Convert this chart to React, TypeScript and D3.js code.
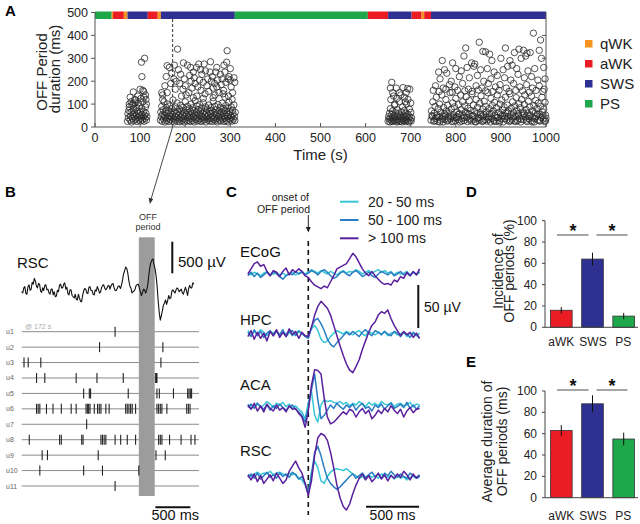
import React from 'react';
import * as d3 from 'd3';

const FONT = "'Liberation Sans', Arial, Helvetica, sans-serif";

// ---------- Panel A data ----------
const stateNames = ['qWK', 'aWK', 'SWS', 'PS'];
const stateColor: Record<string, string> = { qWK: '#f7941d', aWK: '#ec1c24', SWS: '#2e3192', PS: '#1ea84b' };
const stateSegments: [number, number, string][] = [
  [0, 37, 'PS'], [37, 40, 'qWK'], [40, 64, 'aWK'], [64, 72, 'qWK'], [72, 117, 'SWS'],
  [117, 139, 'aWK'], [139, 146, 'qWK'], [146, 310, 'SWS'], [310, 605, 'PS'], [605, 650, 'aWK'],
  [650, 702, 'SWS'], [702, 724, 'aWK'], [724, 730, 'qWK'], [730, 745, 'aWK'], [745, 1000, 'SWS'],
];
const timeTicks = [0, 100, 200, 300, 400, 500, 600, 700, 800, 900, 1000];
const durTicks = [0, 100, 200, 300, 400, 500];
const markedTime = 172;

const cluster1: [number, number][] = [
  [72,25],[74,40],[73,58],[75,72],[76,88],[78,30],[79,48],[80,65],[81,22],[82,95],[83,38],[84,55],[85,78],[86,28],[87,45],[88,62],[89,105],[90,33],[91,50],[92,85],[93,24],[94,70],[95,42],[96,58],[97,30],[98,92],[99,48],[100,65],[101,26],[102,38],[103,80],[104,54],[105,30],[106,110],[107,44],[108,68],[109,25],[110,52],[111,38],[112,88],[113,60],[114,30],[115,45],
  [78,130],[85,153],[88,120],[95,135],[100,165],[103,283],[104,220],[108,155],[110,300],[112,140],[113,120],[106,160],[96,105],[90,118],[80,110],[76,100],[84,100],[102,125],[109,130],[114,100],
];
const cluster2Low: [number, number][] = [
  [145,30],[146,65],[147,45],[148,90],[149,25],[150,55],[151,75],[152,35],[153,110],[154,50],[155,22],[156,68],[157,40],[158,85],[159,28],[160,58],[161,100],[162,38],[163,72],[164,24],[165,48],[166,92],[167,32],[168,62],[169,44],[170,80],[171,26],[172,54],[173,118],[174,36],[175,70],[176,22],[177,46],[178,88],[179,30],[180,60],[181,42],[182,105],[183,25],[184,66],[185,50],[186,34],[187,78],[188,23],[189,56],[190,95],[191,40],[192,70],[193,28],[194,52],[195,85],[196,36],[197,64],[198,22],[199,45],[200,110],[201,32],[202,74],[203,54],[204,26],[205,90],[206,42],[207,62],[208,30],[209,80],[210,48],[211,24],[212,68],[213,100],[214,38],[215,58],[216,28],[217,84],[218,44],[219,72],[220,22],[221,52],[222,115],[223,34],[224,64],[225,40],[226,92],[227,26],[228,56],[229,76],[230,30],[231,48],[232,98],[233,36],[234,66],[235,24],[236,82],[237,46],[238,60],[239,28],[240,106],[241,40],[242,70],[243,32],[244,54],[245,88],[246,22],[247,62],[248,44],[249,78],[250,30],[251,50],[252,96],[253,36],[254,68],[255,26],[256,58],[257,84],[258,40],[259,72],[260,24],[261,48],[262,112],[263,32],[264,64],[265,42],[266,90],[267,28],[268,56],[269,76],[270,36],[271,22],[272,60],[273,98],[274,44],[275,70],[276,30],[277,52],[278,86],[279,26],[280,66],[281,40],[282,104],[283,34],[284,58],[285,80],[286,24],[287,48],[288,72],[289,38],[290,94],[291,28],[292,62],[293,46],[294,82],[295,22],[296,54],[297,108],[298,36],[299,68],[300,30],[301,50],[302,88],[303,42],[304,26],[305,74],[306,58],[307,34],[308,96],[309,46],[310,28],[311,64],
];
const cluster2High: [number, number][] = [
  [148,150],[150,120],[155,180],[158,220],[160,268],[165,260],[170,235],[175,210],[180,200],[183,340],[185,250],[188,190],[190,230],[195,165],[198,210],[200,180],[205,270],[208,150],[210,225],[213,200],[215,170],[218,240],[220,215],[222,190],[225,260],[228,175],[230,275],[232,205],[235,160],[237,230],[240,195],[242,275],[245,245],[248,180],[250,210],[252,155],[255,240],[258,200],[260,220],[262,170],[265,190],[268,240],[270,175],[272,205],[275,150],[278,230],[280,185],[282,210],[285,160],[288,240],[290,195],[292,283],[293,333],[295,210],[297,220],[300,205],[302,175],[305,150],[308,215],[310,195],[300,255],[286,270],[270,260],[256,285],[234,250],[212,260],[196,280],[176,270],[168,190],[160,150],[150,140],[178,165],[202,140],[226,135],[244,145],[266,140],[288,130],[304,120],[192,135],[218,128],[240,125],[262,128],[284,145],[296,135],
];
const cluster3: [number, number][] = [
  [650,25],[651,45],[652,35],[653,60],[654,22],[655,80],[656,40],[657,30],[658,55],[659,24],[660,70],[661,38],[662,28],[663,50],[664,95],[665,26],[666,42],[667,62],[668,32],[669,22],[670,75],[671,46],[672,30],[673,58],[674,24],[675,110],[676,36],[677,48],[678,26],[679,66],[680,40],[681,22],[682,88],[683,34],[684,52],[685,28],[686,72],[687,42],[688,24],[689,60],[690,32],[691,100],[692,46],[693,26],[694,56],[695,38],[696,22],[697,78],[698,44],[699,30],[700,64],[701,26],[702,40],
  [656,120],[662,135],[670,125],[678,140],[686,130],[694,120],[700,105],[658,195],[655,170],[668,170],[683,172],[693,168],[675,150],[660,150],[690,150],[698,165],[665,100],[688,110],
];
const cluster4Low: [number, number][] = [
  [745,30],[746,70],[748,45],[749,110],[751,25],[752,60],[754,90],[755,38],[757,130],[758,52],[760,24],[761,80],[763,42],[764,100],[766,30],[767,65],[769,140],[770,48],[772,22],[773,85],[775,58],[776,34],[778,120],[779,70],[781,26],[782,95],[784,44],[785,62],[787,150],[788,36],[790,78],[791,24],[793,105],[794,54],[796,40],[797,88],[799,28],[800,125],[802,66],[803,46],[805,32],[806,98],[808,58],[809,22],[811,140],[812,76],[814,38],[815,110],[817,50],[818,28],[820,92],[821,64],[823,132],[824,42],[826,24],[827,82],[829,56],[830,115],[832,36],[833,72],[835,26],[836,145],[838,50],[839,96],[841,34],[842,68],[844,22],[845,120],[847,58],[848,86],[850,40],[851,28],[853,104],[854,62],[856,136],[857,46],[859,24],[860,78],[862,54],[863,112],[865,32],[866,90],[868,66],[869,26],[871,150],[872,44],[874,80],[875,58],[877,22],[878,125],[880,38],[881,94],[883,70],[884,30],[886,108],[887,52],[889,24],[890,84],[892,140],[893,42],[895,64],[896,28],[898,100],[899,56],[901,36],[902,118],[904,74],[905,22],[907,88],[908,48],[910,130],[911,60],[913,30],[914,96],[916,44],[917,70],[919,24],[920,145],[922,54],[923,82],[925,34],[926,110],[928,62],[929,26],[931,92],[932,46],[934,128],[935,72],[937,28],[938,58],[940,102],[941,38],[943,84],[944,22],[946,120],[947,50],[949,66],[950,32],[952,98],[953,140],[955,44],[956,76],[958,24],[959,60],[961,112],[962,36],[964,88],[965,52],[967,28],[968,135],[970,70],[971,40],[973,94],[974,22],[976,62],[977,116],[979,48],[980,80],[982,30],[983,104],[985,56],[986,26],[988,90],[989,42],[991,130],[992,66],[994,34],[995,78],[997,24],[998,108],[999,52],[1000,38],
  [747,50],[753,28],[759,44],[765,22],[771,36],[777,52],[783,30],[789,46],[795,24],[801,40],[807,56],[813,26],[819,42],[825,60],[831,30],[837,48],[843,24],[849,38],[855,54],[861,28],[867,44],[873,34],[879,58],[885,26],[891,40],[897,22],[903,50],[909,36],[915,62],[921,28],[927,44],[933,24],[939,52],[945,34],[951,58],[957,30],[963,46],[969,22],[975,38],[981,56],[987,28],[993,48],[999,26],
];
const cluster4High: [number, number][] = [
  [972,410],[852,370],[988,380],[822,345],[910,345],[940,340],[950,335],[860,330],[866,328],[930,325],[958,322],[875,318],[965,325],[985,335],[955,310],[945,300],[770,290],[793,280],[818,310],[835,280],[842,275],[880,290],[900,300],[920,290],[925,270],[990,300],[775,250],[762,240],[780,235],[800,255],[812,245],[825,260],[840,265],[855,250],[870,255],[885,240],[905,250],[915,265],[935,255],[960,245],[975,255],[995,260],[765,210],[790,200],[808,220],[830,215],[848,225],[862,200],[878,210],[892,225],[908,215],[922,205],[938,230],[952,215],[968,220],[982,205],[998,210],[755,180],[772,170],[786,185],[798,175],[815,190],[828,165],[845,180],[858,170],[872,190],[888,175],[898,185],[912,170],[928,190],[942,175],[957,185],[970,170],[985,180],[996,165],[750,160],[763,155],[778,165],[792,152],[804,160],[820,158],[836,155],[850,162],[866,158],[882,155],[896,160],[918,155],[933,160],[948,158],[963,152],[978,160],[993,155],
];

// ---------- Panel B data ----------
const lfpStartMs = 0;
const lfpStepMs = 15;
const rscLfp = [
  0,-20,60,80,-30,-40,80,110,20,40,
  150,120,210,170,90,60,130,120,10,-10,
  60,20,100,110,30,40,-20,-40,40,40,
  -50,0,-80,-70,20,0,100,120,60,60,
  120,140,40,70,-30,-50,30,30,-60,-80,
  -100,-40,-120,-130,-40,-100,-150,-160,-60,10,
  50,40,-20,-30,70,80,20,20,-40,-50,
  30,10,80,40,-20,-10,60,100,110,60,
  30,50,90,100,40,90,120,130,60,20,
  20,50,90,90,50,100,180,280,330,390,
  370,300,180,90,60,-20,0,10,40,100,
  110,120,60,0,-60,-20,40,30,-20,20,
  100,250,380,460,500,520,430,360,250,80,
  -150,-330,-450,-380,-300,-210,-180,-130,-200,-140,
  -60,-110,-100,10,30,0,-20,30,60,40,
  0,20,40,-20,-40,20,70,10,-60,50,
  100,60,60,140,120,
];
const unitNames = ['u1','u2','u3','u4','u5','u6','u7','u8','u9','u10','u11'];
const unitSpikes: number[][] = [
  [1334],
  [1112, 2017],
  [33, 93, 273, 1989],
  [212, 330, 778, 1075, 1451, 1914, 1924, 1932],
  [885, 966, 984, 1522, 1932, 1966, 2168, 2371, 2390, 2409, 2427],
  [212,235,259,354,447,566,707,778,919,938,956,976,1037,1084,1108,1132,1202,1249,1485,1508,1532,1556,1579,1627,1932,1956,1980,2003,2074,2357,2381,2405],
  [928],
  [108,542,566,857,877,1132,1154,1178,1202,1334,1414,1508,1627,1956,1980,2003,2112,2277,2419,2475],
  [292, 368, 1093, 1918, 2051],
  [259, 885, 1154, 1673],
  [1334],
];
const offPeriodMs: [number, number] = [1673, 1900];

// ---------- Panel C data ----------
const traceStartMs = -570;
const traceStepMs = 30;
const classNames = ['20 - 50 ms', '50 - 100 ms', '> 100 ms'];
const channelNames = ['ECoG', 'HPC', 'ACA', 'RSC'];
const ecogShort = [1,-1,2,0,-2,1,3,-1,0,2,-1,1,-2,0,2,-1,1,3,0,2,5,3,1,4,2,0,3,1,-1,2,4,1,3,2,5,3,0,2,4,1,3,5,2,4,1,3,-1,2,0,1,3,-1,2,0,1];
const ecogMid = [-2,2,-3,1,-4,-1,2,-2,3,0,-3,-6,-2,1,-1,3,0,2,-1,1,4,2,-1,3,5,2,-2,-5,-3,1,3,0,-2,2,4,1,-3,-1,2,-2,-4,0,3,1,-1,2,-2,0,3,-1,1,-2,2,-1,3];
const ecogLong = [0,6,12,14,9,11,3,-2,4,2,-3,3,7,-1,5,2,6,3,-2,-4,-9,-13,-15,-17,-14,-16,-9,-2,6,8,10,12,18,24,20,13,6,1,-2,3,-2,-6,-10,-12,-11,-13,-7,-9,-3,-5,2,-2,3,-1,6];
const hpcShort = [4,-1,3,0,5,2,-2,3,1,4,-1,2,0,3,-2,1,4,0,-2,-4,6,10,4,-6,-10,-8,-3,1,4,2,0,3,1,-1,2,4,0,-2,3,1,-1,2,0,3,-2,1,2,-1,0,2,-3,1,0,-2,1];
const hpcMid = [2,-3,5,-2,3,-4,1,4,-2,3,-1,5,-3,2,4,-2,3,1,-3,-5,8,16,18,12,4,-6,-12,-15,-10,-6,-2,2,-1,3,0,-3,2,5,1,-2,4,2,-1,3,0,-2,3,1,-3,2,0,-4,2,-1,-5];
const hpcLong = [-3,4,-6,2,-5,1,-8,3,-2,5,-4,2,-3,6,-1,3,-5,2,-2,-3,8,22,32,38,34,30,22,10,-2,-14,-25,-35,-42,-45,-38,-30,-18,-8,2,10,14,22,26,24,28,18,10,4,-2,3,-1,2,-4,1,-5];
const acaShort = [3,-2,1,4,-1,2,6,3,-1,4,2,5,0,3,-2,1,-3,-6,-14,5,18,-10,-18,2,8,6,7,5,4,6,3,5,1,4,2,6,3,0,5,2,4,1,6,3,2,5,0,3,4,1,2,5,0,3,2];
const acaMid = [-1,3,-2,4,0,-3,2,-4,1,-2,3,-1,-4,0,2,-3,-6,-10,-18,-2,20,38,8,-14,-10,-4,2,-2,4,0,-3,2,-1,3,-4,1,4,-2,0,-5,2,-1,3,-3,1,4,-2,0,3,-1,5,-2,2,-3,1];
const acaLong = [2,-3,4,-5,1,-6,3,-2,-5,2,-4,-1,-6,1,-3,-2,-8,-12,-24,-5,25,43,42,38,10,-12,-20,-18,-14,-10,-6,-9,-3,-5,-12,-6,-2,-8,-4,-14,-10,-4,-8,-2,-6,1,-4,-8,-3,-12,-5,-1,-7,-3,-2];
const rscShort = [2,0,3,5,2,4,3,6,2,4,5,3,1,4,2,3,-2,-4,-10,-20,5,18,10,-5,-8,0,5,8,9,8,7,9,6,3,1,-2,0,-3,2,-1,1,-2,3,0,-1,2,-3,1,-2,0,-4,-1,0,-2,-1];
const rscMid = [-1,3,-2,4,-3,1,5,-1,2,-2,4,0,3,-1,5,2,-3,0,-8,-20,2,28,35,24,10,-2,-8,-12,-15,-12,-8,-4,0,3,-2,1,4,-1,2,5,0,3,-2,4,1,6,2,-1,3,0,-2,4,1,-1,2];
const rscLong = [2,-4,3,-6,1,-8,-3,2,-5,4,-2,-8,-4,6,12,18,10,4,-8,-22,-5,25,45,50,48,42,28,10,-10,-25,-35,-39,-32,-20,-10,-2,3,-4,1,-6,-2,4,-3,2,-5,1,-2,3,-1,6,2,-4,3,-2,1];

// ---------- Panels D, E data ----------
const barCats = ['aWK', 'SWS', 'PS'];
const incidence = [16, 64, 10.5];
const incidenceErr = [3, 6, 3];
const avgDuration = [63, 88, 55];
const avgDurationErr = [5, 8, 6];
const barTicks = [0, 20, 40, 60, 80, 100];

const traceColors = ['#38c7d6', '#2a7dc2', '#5a1f9d'];

export default function App() {
  // ---- A scales
  const xA = d3.scaleLinear().domain([0, 1000]).range([95, 546]);
  const yA = d3.scaleLinear().domain([0, 500]).range([127, 12.5]);
  const allPts = [...cluster1, ...cluster2Low, ...cluster2High, ...cluster3, ...cluster4Low, ...cluster4High];

  // ---- B scales
  const xB = d3.scaleLinear().domain([0, 500]).range([21.7, 21.7 + 35]);
  const yLfp = d3.scaleLinear().domain([0, 500]).range([291.7, 291.7 - 31.6]);
  const rowY = (i: number) => 331.7 + i * 15.43;
  const lfpLine = d3.line<number>().x((_, i) => xB(lfpStartMs + i * lfpStepMs)).y((v) => yLfp(v));

  // ---- C scales
  const xC = d3.scaleLinear().domain([0, 500]).range([308.3, 308.3 + 53]);
  const chanBase = [274, 334, 406.7, 476.5];
  const chanData = [
    [ecogShort, ecogMid, ecogLong],
    [hpcShort, hpcMid, hpcLong],
    [acaShort, acaMid, acaLong],
    [rscShort, rscMid, rscLong],
  ];
  const uvPx = 43 / 50;

  // ---- D/E scales
  const xBar = d3.scaleBand<string>().domain(barCats).range([545, 640]).paddingInner(0.305).paddingOuter(0.175);
  const yD = d3.scaleLinear().domain([0, 100]).range([327.3, 220.7]);
  const yE = d3.scaleLinear().domain([0, 100]).range([497.7, 391]);
  const barColors = [stateColor.aWK, stateColor.SWS, stateColor.PS];

  const barPanel = (y: d3.ScaleLinear<number, number>, vals: number[], errs: number[], sigY: number, labelLines: string[], labelX: number[], labelY: number, xLabY: number) => (
    <g>
      {barCats.map((c, i) => (
        <g key={c}>
          <rect x={xBar(c)} y={y(vals[i])} width={xBar.bandwidth()} height={y(0) - y(vals[i])} fill={barColors[i]} stroke="#333" strokeWidth={0.8} />
          <line x1={xBar(c)! + xBar.bandwidth() / 2} x2={xBar(c)! + xBar.bandwidth() / 2} y1={y(vals[i] - errs[i])} y2={y(vals[i] + errs[i])} stroke="#111" strokeWidth={1} />
          <text x={xBar(c)! + xBar.bandwidth() / 2 + (i === 0 ? 0 : i === 1 ? 0.5 : -0.5)} y={xLabY} textAnchor="middle" fontSize={12} fill="#222">{c}</text>
        </g>
      ))}
      <line x1={545} x2={545} y1={y(0)} y2={y(100)} stroke="#444" strokeWidth={1} />
      <line x1={545} x2={638} y1={y(0)} y2={y(0)} stroke="#444" strokeWidth={1} />
      {barTicks.map((t) => (
        <g key={t}>
          <line x1={542} x2={545} y1={y(t)} y2={y(t)} stroke="#444" />
          <text x={537} y={y(t) + 4} textAnchor="end" fontSize={12} fill="#222">{t}</text>
        </g>
      ))}
      <line x1={557} x2={588.5} y1={sigY} y2={sigY} stroke="#888" strokeWidth={1.5} />
      <line x1={596.5} x2={627.5} y1={sigY} y2={sigY} stroke="#888" strokeWidth={1.5} />
      <text x={573} y={sigY + 1.5} textAnchor="middle" fontSize={18} fontWeight="bold" fill="#111">*</text>
      <text x={612} y={sigY + 1.5} textAnchor="middle" fontSize={18} fontWeight="bold" fill="#111">*</text>
      {labelLines.map((l, k) => (
        <text key={k} transform={`translate(${labelX[k]},${labelY}) rotate(-90)`} textAnchor="middle" fontSize={14} fill="#222">{l}</text>
      ))}
    </g>
  );

  return (
    <svg width={640} height={524} style={{ position: 'absolute', left: 0, top: 0, background: '#fff' }} fontFamily={FONT}>
      <rect x={0} y={0} width={640} height={524} fill="#fff" />
      {/* Panel labels */}
      <text x={5} y={16} fontSize={15} fontWeight="bold">A</text>
      <text x={5} y={197} fontSize={15} fontWeight="bold">B</text>
      <text x={226} y={197} fontSize={15} fontWeight="bold">C</text>
      <text x={466} y={197} fontSize={15} fontWeight="bold">D</text>
      <text x={466} y={367} fontSize={15} fontWeight="bold">E</text>

      {/* ===== Panel A ===== */}
      <line x1={xA(markedTime)} x2={xA(markedTime)} y1={19} y2={127} stroke="#555" strokeWidth={1.2} strokeDasharray="3,2" />
      <g>
        {allPts.map(([t, d], i) => (
          <circle key={i} cx={xA(t)} cy={yA(d)} r={3.2} fill="none" stroke="#2a2a2a" strokeWidth={0.8} />
        ))}
      </g>
      {stateSegments.map(([a, b, s], i) => (
        <rect key={i} x={xA(a)} y={11.5} width={xA(b) - xA(a)} height={7.5} fill={stateColor[s]} />
      ))}
      <line x1={95} x2={95} y1={12} y2={127} stroke="#555" />
      <line x1={546} x2={546} y1={12} y2={127} stroke="#555" />
      <line x1={95} x2={546} y1={127} y2={127} stroke="#555" />
      {durTicks.map((t) => (
        <g key={t}>
          <line x1={91} x2={95} y1={yA(t)} y2={yA(t)} stroke="#555" />
          {t > 0 && t < 500 && <line x1={542} x2={546} y1={yA(t)} y2={yA(t)} stroke="#555" />}
          <text x={88} y={yA(t) + 4.5} textAnchor="end" fontSize={12.5} fill="#222">{t}</text>
        </g>
      ))}
      {timeTicks.map((t) => (
        <g key={t}>
          <line x1={xA(t)} x2={xA(t)} y1={127} y2={123} stroke="#555" />
          <text x={xA(t)} y={142} textAnchor="middle" fontSize={12.5} fill="#222">{t}</text>
        </g>
      ))}
      <text x={320.5} y={160} textAnchor="middle" fontSize={15} fill="#222">Time (s)</text>
      <text transform="translate(47,72) rotate(-90)" textAnchor="middle" fontSize={15} fill="#222">OFF Period</text>
      <text transform="translate(59.5,69) rotate(-90)" textAnchor="middle" fontSize={15} fill="#222">duration (ms)</text>
      {stateNames.map((s, i) => (
        <g key={s}>
          <rect x={585} y={40 + i * 20} width={7.5} height={7.5} fill={stateColor[s]} />
          <text x={600} y={49 + i * 20} fontSize={15} fill="#222">{s}</text>
        </g>
      ))}
      {/* connector arrow A -> B */}
      <line x1={xA(markedTime)} y1={127} x2={150.8} y2={200} stroke="#333" strokeWidth={0.9} />
      <path d="M149.9,204 L148.6,197.8 L153.2,199 Z" fill="#333" />

      {/* ===== Panel B ===== */}
      <text x={148} y={219.5} textAnchor="middle" fontSize={9} fill="#333">OFF</text>
      <text x={148} y={229.5} textAnchor="middle" fontSize={9} fill="#333">period</text>
      {unitNames.map((u, i) => (
        <g key={u}>
          <line x1={21.7} x2={199} y1={rowY(i)} y2={rowY(i)} stroke="#8a8a8a" strokeWidth={1} />
          <text x={6} y={rowY(i) + 2.5} fontSize={7} fill="#666">{u}</text>
        </g>
      ))}
      <rect x={xB(offPeriodMs[0])} y={237.3} width={xB(offPeriodMs[1]) - xB(offPeriodMs[0])} height={258.7} fill="#9c9c9c" />
      {unitSpikes.map((sp, i) => (
        <g key={i}>
          {sp.map((t, k) => (
            <line key={k} x1={xB(t)} x2={xB(t)} y1={rowY(i) - 5} y2={rowY(i) + 5} stroke="#222" strokeWidth={1.1} />
          ))}
        </g>
      ))}
      <text x={25} y={328.5} fontSize={7} fill="#aaa">@ 172 s</text>
      <path d={lfpLine(rscLfp) || ''} fill="none" stroke="#111" strokeWidth={1.1} strokeLinejoin="round" />
      <text x={17} y={268} fontSize={15} fill="#111">RSC</text>
      <line x1={172.3} x2={172.3} y1={yLfp(500) - 18.4} y2={yLfp(0) - 18.4} stroke="#111" strokeWidth={2} />
      <text x={178} y={267} fontSize={15} fill="#111">500 µV</text>
      <line x1={xB(1910)} x2={xB(2410)} y1={507.3} y2={507.3} stroke="#111" strokeWidth={2} />
      <text x={175.2} y={520} textAnchor="middle" fontSize={14.5} fill="#111">500 ms</text>

      {/* ===== Panel C ===== */}
      <text x={309} y={201} textAnchor="end" fontSize={10.5} fill="#222">onset of</text>
      <text x={310} y={212.5} textAnchor="end" fontSize={10.5} fill="#222">OFF period</text>
      <line x1={xC(0)} x2={xC(0)} y1={215} y2={229} stroke="#222" strokeWidth={1} />
      <path d={`M${xC(0) - 2.5},227 L${xC(0) + 2.5},227 L${xC(0)},232.5 Z`} fill="#222" />
      <line x1={xC(0)} x2={xC(0)} y1={241} y2={515} stroke="#111" strokeWidth={1.6} strokeDasharray="5,4" />
      {classNames.map((c, i) => (
        <g key={c}>
          <line x1={340} x2={358.5} y1={201.7 + i * 18.3} y2={201.7 + i * 18.3} stroke={traceColors[i]} strokeWidth={2} />
          <text x={368} y={206.7 + i * 18.3} fontSize={14} fill="#222">{c}</text>
        </g>
      ))}
      {chanData.map((traces, c) => (
        <g key={c}>
          {traces.map((vals, k) => {
            const ln = d3.line<number>().x((_, i) => xC(traceStartMs + i * traceStepMs)).y((v) => chanBase[c] - v * uvPx);
            return <path key={k} d={ln(vals) || ''} fill="none" stroke={traceColors[k]} strokeWidth={1.5} strokeLinejoin="round" />;
          })}
          <text x={240} y={[257, 325, 390, 456][c]} fontSize={15} fill="#111">{channelNames[c]}</text>
        </g>
      ))}
      <line x1={418.3} x2={418.3} y1={285} y2={285 + 50 * uvPx} stroke="#111" strokeWidth={2} />
      <text x={424} y={312} fontSize={14} fill="#111">50 µV</text>
      <line x1={xC(545)} x2={xC(1045)} y1={506.7} y2={506.7} stroke="#111" strokeWidth={2} />
      <text x={(xC(545) + xC(1045)) / 2} y={520} textAnchor="middle" fontSize={14} fill="#111">500 ms</text>

      {/* ===== Panels D, E ===== */}
      {barPanel(yD, incidence, incidenceErr, 235, ['Incidence of', 'OFF periods (%)'], [503, 514], 271, 346)}
      {barPanel(yE, avgDuration, avgDurationErr, 390, ['Average duration of', 'OFF periods (ms)'], [492, 507], 441.5, 519.5)}
    </svg>
  );
}
